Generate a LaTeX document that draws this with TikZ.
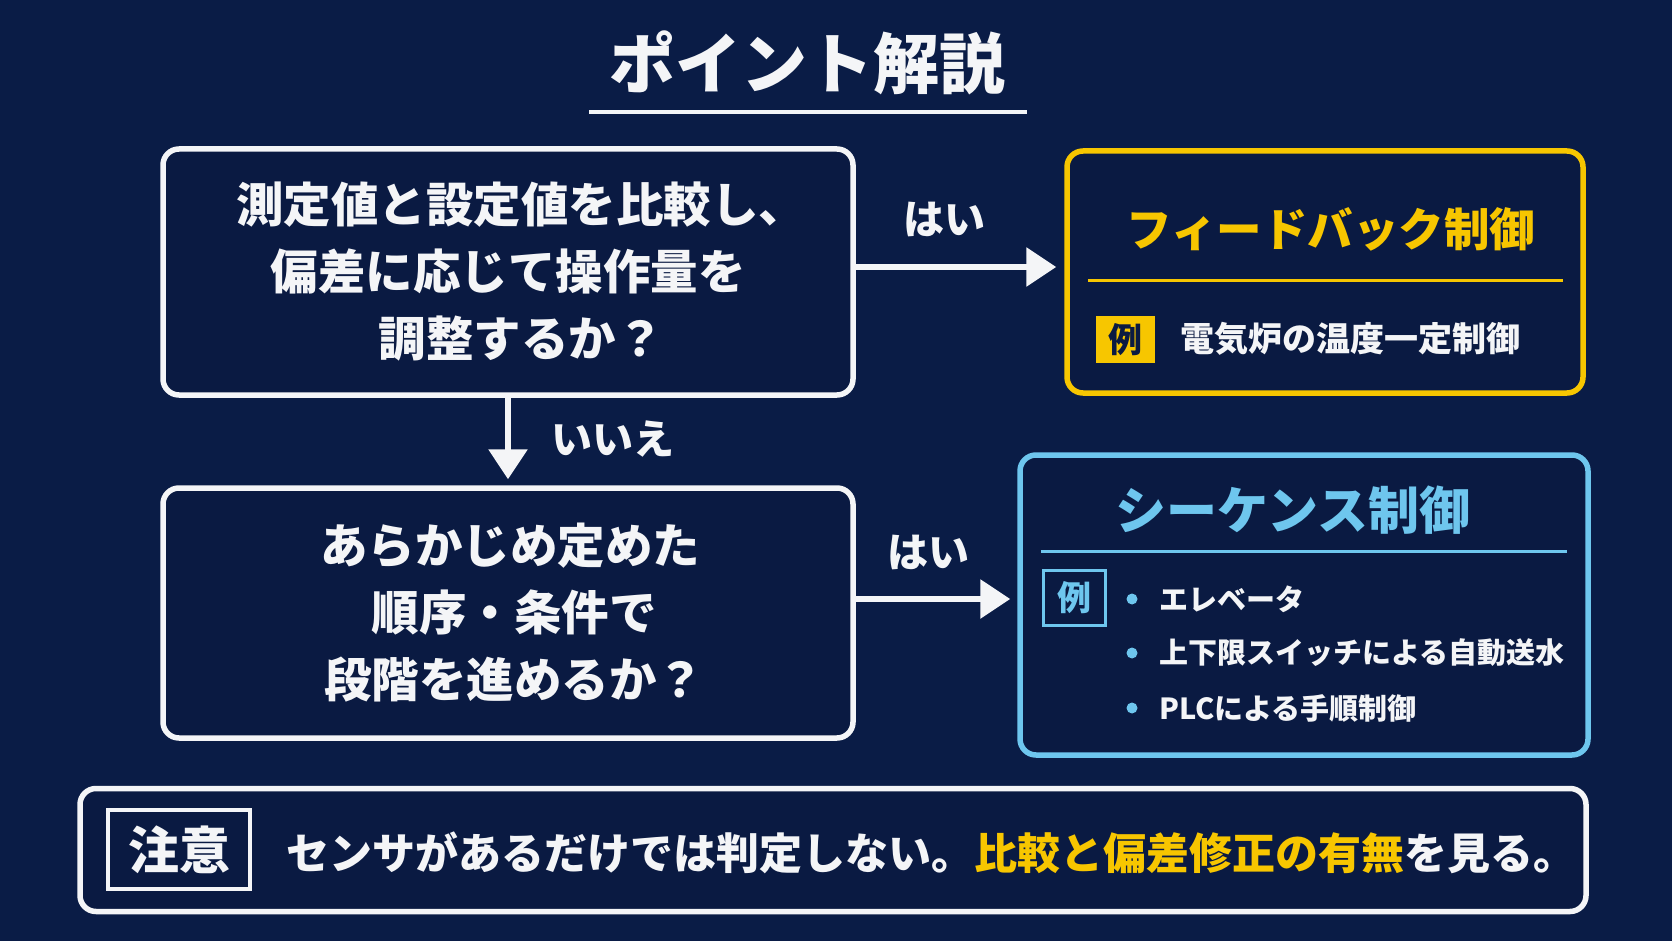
\documentclass[tikz,border=0pt]{standalone}
\usepackage{fontspec}
\setmainfont{Noto Sans CJK JP}
\usetikzlibrary{arrows.meta}
\definecolor{bg}{HTML}{0A1C46}
\definecolor{boxbg}{HTML}{0A1A42}
\definecolor{wline}{HTML}{F4F5F7}
\definecolor{ylw}{HTML}{F7C600}
\definecolor{cyn}{HTML}{6EC6EE}
\tikzset{
  wbox/.style={draw=wline, line width=5.5pt, rounded corners=16pt, fill=boxbg, inner sep=0pt},
  ybox/.style={draw=ylw, line width=5.5pt, rounded corners=16pt, fill=boxbg, inner sep=0pt},
  cbox/.style={draw=cyn, line width=5.5pt, rounded corners=16pt, fill=boxbg, inner sep=0pt},
  qtext/.style={text=wline, align=center, inner sep=0pt, font=\bfseries\fontsize{47.5}{67}\selectfont},
  lbl/.style={text=wline, inner sep=0pt, font=\bfseries\fontsize{41}{46}\selectfont},
  flow/.style={draw=wline, line width=6pt, -{Triangle[width=38pt,length=30pt]}},
  item/.style={text=wline, anchor=west, inner sep=0pt, font=\bfseries\fontsize{29}{35}\selectfont},
  dot/.style={circle, fill=cyn, inner sep=0pt, minimum size=11pt}
}
\begin{document}
\begin{tikzpicture}[x=1pt,y=-1pt]
\useasboundingbox (0,0) rectangle (1672,941);
\fill[bg] (0,0) rectangle (1672,941);

% title
\node[text=wline, inner sep=0pt, font=\bfseries\fontsize{66}{72}\selectfont] (title) at (807,63) {ポイント解説};
\coordinate (ulA) at (589,112);
\coordinate (ulB) at (1027,112);
\draw[wline, line width=4.5pt] (ulA) -- (ulB);

% boxes
\node[wbox, minimum width=690pt, minimum height=246pt] (q1) at (508,272) {};
\node[wbox, minimum width=690pt, minimum height=250pt] (q2) at (508,613) {};
\node[ybox, minimum width=516pt, minimum height=242pt] (fb) at (1325,272) {};
\node[cbox, minimum width=568pt, minimum height=300pt] (sq) at (1304,605) {};
\node[wbox, minimum width=1506pt, minimum height=123pt] (note) at (833,850) {};

% question texts
\node[qtext] (q1t) at (508,272) {\hspace*{26pt}測定値と設定値を比較し、\\偏差に応じて操作量を\\\hspace*{26pt}調整するか？};
\node[qtext] (q2t) at (510,613) {あらかじめ定めた\\\hspace*{8pt}順序・条件で\\\hspace*{8pt}段階を進めるか？};

% arrows
\coordinate (a1) at ([yshift=5pt]q1.east);
\draw[flow, shorten >=8pt] (a1) -- (a1 -| fb.west);
\coordinate (a2) at ([yshift=14pt]q2.east);
\draw[flow, shorten >=7pt] (a2) -- (a2 -| sq.west);
\draw[flow, shorten >=6pt] (q1.south) -- (q2.north);
\node[lbl] (yes1) at (944,219) {はい};
\node[lbl] (yes2) at (928,552) {はい};
\node[lbl] (no1) at (613,439) {いいえ};

% feedback box
\node[text=ylw, inner sep=0pt, font=\bfseries\fontsize{45.5}{50}\selectfont] (fbt) at (1331,229) {フィードバック制御};
\coordinate (fdA) at (1088,280);
\coordinate (fdB) at (1563,280);
\draw[ylw, line width=3pt] (fdA) -- (fdB);
\node[fill=ylw, minimum width=59pt, minimum height=47pt, inner sep=0pt, text=boxbg, font=\bfseries\fontsize{34}{38}\selectfont] (fbex) at (1125.5,339.5) {例};
\node[item, font=\bfseries\fontsize{34}{38}\selectfont] (fbi) at (1180,339) {電気炉の温度一定制御};

% sequence box
\node[text=cyn, inner sep=0pt, font=\bfseries\fontsize{51}{56}\selectfont] (sqt) at (1293,510) {シーケンス制御};
\coordinate (sdA) at (1041,551);
\coordinate (sdB) at (1567,551);
\draw[cyn, line width=3pt] (sdA) -- (sdB);
\node[draw=cyn, line width=3pt, minimum width=62pt, minimum height=55pt, inner sep=0pt, text=cyn, font=\bfseries\fontsize{34}{38}\selectfont] (sqex) at (1074,597.5) {例};
\node[dot] (d1) at (1132,599) {};
\node[dot] (d2) at (1132,653) {};
\node[dot] (d3) at (1132,708) {};
\node[item] (i1) at (1159,599) {エレベータ};
\node[item] (i2) at (1159,653) {上下限スイッチによる自動送水};
\node[item] (i3) at (1159,708) {PLCによる手順制御};

% note
\node[draw=wline, line width=3.5pt, minimum width=142pt, minimum height=79pt, inner sep=0pt, text=wline, font=\bfseries\fontsize{51}{56}\selectfont] (warn) at (179,849.5) {注意};
\node[anchor=west, inner sep=0pt, text=wline, font=\bfseries\fontsize{43}{48}\selectfont] (nt) at (286,853) {センサがあるだけでは判定しない。\textcolor{ylw}{比較と偏差修正の有無}を見る。};
\end{tikzpicture}
\end{document}
